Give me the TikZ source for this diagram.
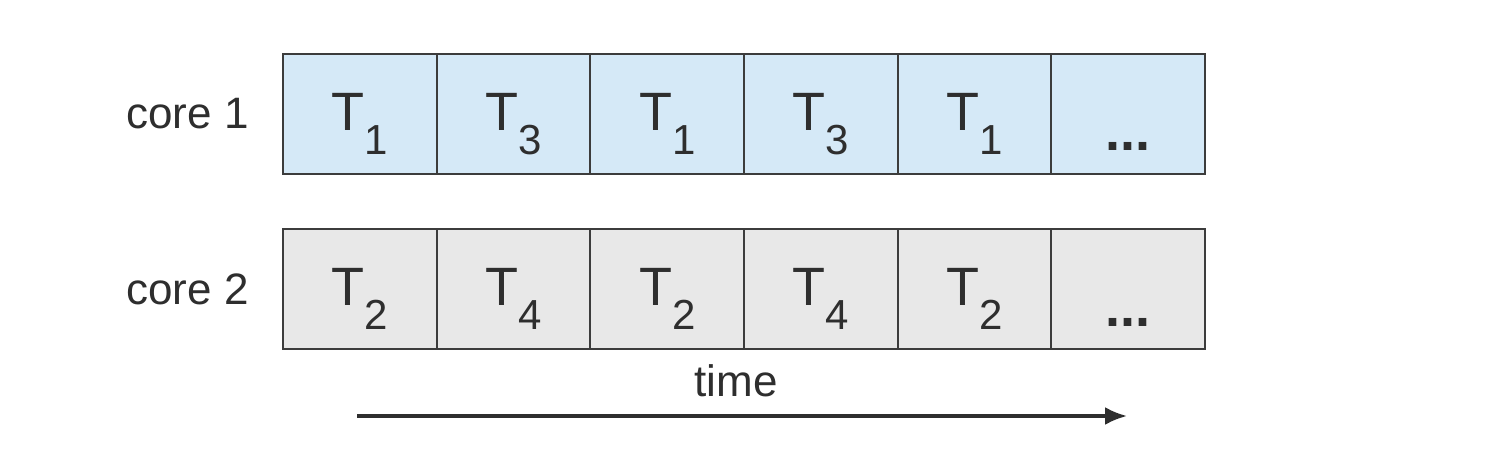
\documentclass[tikz,border=0pt]{standalone}
\usepackage{fontspec}
\setmainfont{Liberation Sans}
\usepackage{tikz}
\usetikzlibrary{positioning,arrows.meta}

\definecolor{coreblue}{HTML}{D5E9F7}
\definecolor{coregray}{HTML}{E8E8E8}
\definecolor{edgegray}{HTML}{3C3C3C}
\definecolor{inkgray}{HTML}{2E2E2E}

\newcommand{\tsk}[1]{T\raisebox{-12pt}{\fontsize{21}{21}\selectfont #1}}
\newcommand{\more}{\raisebox{-10pt}{\textbf{...}}}

\tikzset{
  slot/.style={draw=edgegray, line width=1pt, inner sep=0pt, outer sep=0pt,
    minimum width=76.83pt, text height=38.5pt, text depth=21.5pt,
    text=inkgray, font=\fontsize{27}{27}\selectfont},
  slotone/.style={slot, fill=coreblue},
  slottwo/.style={slot, fill=coregray},
  corelbl/.style={text=inkgray, font=\fontsize{22}{22}\selectfont, inner sep=0pt}
}

\begin{document}
\begin{tikzpicture}[x=0.5pt,y=-0.5pt]
  \useasboundingbox (0,0) rectangle (1488,470);
  % core 1
  \node[slotone] (a1) at (359.8,114) {\tsk{1}};
  \node[slotone] (a2) at (513.5,114) {\tsk{3}};
  \node[slotone] (a3) at (667.2,114) {\tsk{1}};
  \node[slotone] (a4) at (820.8,114) {\tsk{3}};
  \node[slotone] (a5) at (974.5,114) {\tsk{1}};
  \node[slotone] (a6) at (1128.2,114) {\more};
  % core 2
  \node[slottwo] (b1) at (359.8,289) {\tsk{2}};
  \node[slottwo] (b2) at (513.5,289) {\tsk{4}};
  \node[slottwo] (b3) at (667.2,289) {\tsk{2}};
  \node[slottwo] (b4) at (820.8,289) {\tsk{4}};
  \node[slottwo] (b5) at (974.5,289) {\tsk{2}};
  \node[slottwo] (b6) at (1128.2,289) {\more};
  \node[corelbl, left=17pt of a1] (core1) {core 1};
  \node[corelbl, left=17pt of b1] (core2) {core 2};
  % time axis
  \node[corelbl] (timelbl) at (736,381) {time};
  \coordinate (tstart) at (357,416);
  \coordinate (tend) at (1127,416);
  \draw[-{Latex[length=11pt,width=9pt]}, line width=1.6pt, inkgray] (tstart)--(tend);
\end{tikzpicture}
\end{document}
